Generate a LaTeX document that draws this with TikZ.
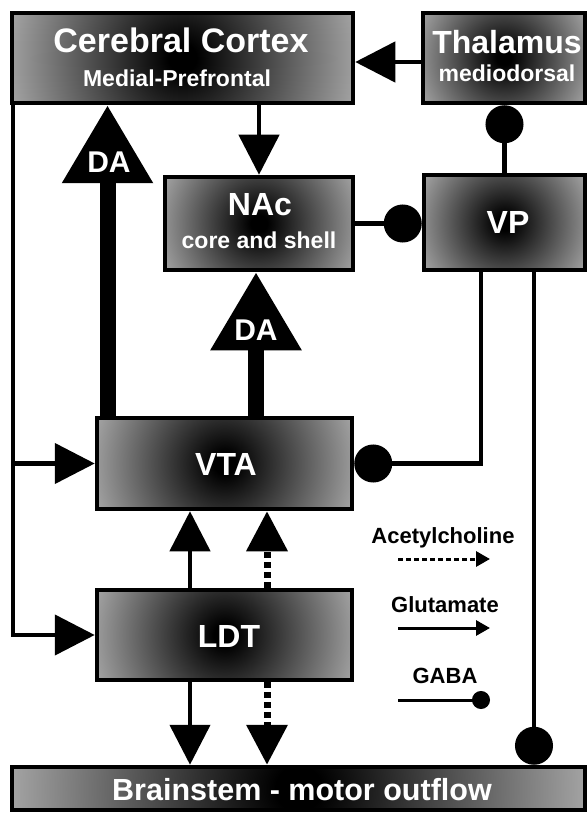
\documentclass[tikz,border=0pt]{standalone}
\usepackage{fontspec}
\setmainfont{Liberation Sans}
\usetikzlibrary{arrows.meta}
\pgfdeclareradialshading{glow}{\pgfpoint{0bp}{0bp}}{color(0bp)=(black); color(2bp)=(black); color(25bp)=(black!36); color(50bp)=(black!36)}
\begin{document}
\begin{tikzpicture}[x=1pt,y=-1pt,
  gbox/.style={draw=black, line width=4.5pt, inner sep=0pt,
    path picture={\shade[shading=glow] (path picture bounding box.center) circle[radius=#1];}},
  big/.style={text=white, anchor=base, inner sep=0pt, font=\bfseries\fontsize{32}{32}\selectfont},
  small/.style={text=white, anchor=base, inner sep=0pt, font=\bfseries\fontsize{23}{23}\selectfont},
  legtext/.style={text=black, anchor=base, inner sep=0pt, font=\bfseries\fontsize{22}{22}\selectfont},
  conn/.style={line width=4.5pt},
  glu/.style={conn, -{Triangle[width=40pt,length=40pt]}},
  ach/.style={line width=7pt, dash pattern=on 6pt off 4pt, -{Triangle[width=40pt,length=40pt]}},
  gaba/.style={conn, -{Circle[length=38pt]}},
  da/.style={line width=16pt, -{Triangle[width=87pt,length=78pt]}},
  legline/.style={line width=3pt},
]
\useasboundingbox (0,0) rectangle (587,813);
% boxes
\node[gbox=176pt, minimum width=341pt, minimum height=90pt] (cortex) at (182.5,58) {};
\node[gbox=93pt, minimum width=162pt, minimum height=90pt] (thal) at (504,58) {};
\node[gbox=105pt, minimum width=188pt, minimum height=93pt] (nac) at (259,223.5) {};
\node[gbox=93pt, minimum width=161pt, minimum height=95pt] (vp) at (504.5,222.5) {};
\node[gbox=135pt, minimum width=255pt, minimum height=91pt] (vta) at (224.5,463.5) {};
\node[gbox=135pt, minimum width=255pt, minimum height=90pt] (ldt) at (224.5,635) {};
\node[gbox=287pt, minimum width=573pt, minimum height=43pt] (bs) at (298.5,788.5) {};
% connectors
\coordinate (tc) at ([yshift=-4pt]thal.west);
\draw[glu] (tc) -- (tc -| cortex.east);
\draw[glu] (nac.north |- cortex.south) -- (nac.north);
\draw[gaba] (vp.north) -- (vp.north |- thal.south);
\draw[gaba] (nac.east) -- (nac.east -| vp.west);
\coordinate (vpA) at ([xshift=-23.5pt]vp.south);
\draw[gaba] (vpA) |- (vta.east);
\coordinate (vpB) at ([xshift=29.5pt]vp.south);
\draw[gaba] (vpB) -- (vpB |- bs.north);
\coordinate (daA) at ([xshift=-117pt]vta.north);
\draw[da] (daA) -- (daA |- cortex.south);
\coordinate (daB) at ([xshift=31.5pt]vta.north);
\draw[da] (daB) -- (daB |- nac.south);
\coordinate (lf) at ([xshift=3pt]cortex.south west);
\draw[glu] (lf) |- (ldt.west);
\draw[glu] (lf |- vta.west) -- (vta.west);
\coordinate (l1) at ([xshift=-34.5pt]ldt.north);
\draw[glu] (l1) -- (l1 |- vta.south);
\coordinate (l2) at ([xshift=42.5pt]ldt.north);
\draw[ach] (l2) -- (l2 |- vta.south);
\coordinate (l3) at ([xshift=-34.5pt]ldt.south);
\draw[glu] (l3) -- (l3 |- bs.north);
\coordinate (l4) at ([xshift=42.5pt]ldt.south);
\draw[ach] (l4) -- (l4 |- bs.north);
% labels
\node[big, font=\bfseries\fontsize{34}{34}\selectfont] (cortexT) at (181,53) {Cerebral Cortex};
\node[small] (cortexS) at (177,87) {Medial-Prefrontal};
\node[big] (thalT) at (507,54) {Thalamus};
\node[small] (thalS) at (507,82) {mediodorsal};
\node[big] (nacT) at (260,215) {NAc};
\node[small] (nacS) at (259,248) {core and shell};
\node[big] (vpT) at (508,233) {VP};
\node[big] (vtaT) at (226,475) {VTA};
\node[big] (ldtT) at (229,647) {LDT};
\node[big, font=\bfseries\fontsize{30}{30}\selectfont] (da1) at (109,173) {DA};
\node[big, font=\bfseries\fontsize{30}{30}\selectfont] (da2) at (256,340) {DA};
\node[big, font=\bfseries\fontsize{30.5}{30.5}\selectfont] (bsT) at (302,800) {Brainstem - motor outflow};
% legend
\node[legtext] (achT) at (443,543) {Acetylcholine};
\coordinate (achA) at (398,559);
\coordinate (achB) at (490,559);
\draw[legline, dash pattern=on 5pt off 3pt, -{Triangle[width=15pt,length=14pt]}] (achA) -- (achB);
\node[legtext] (gluT) at (445,612) {Glutamate};
\coordinate (gluA) at (398,628);
\coordinate (gluB) at (490,628);
\draw[legline, -{Triangle[width=15pt,length=14pt]}] (gluA) -- (gluB);
\node[legtext] (gabaT) at (445,683) {GABA};
\coordinate (gabaA) at (398,700);
\coordinate (gabaB) at (490,700);
\draw[legline, -{Circle[length=18pt]}] (gabaA) -- (gabaB);
\end{tikzpicture}
\end{document}
